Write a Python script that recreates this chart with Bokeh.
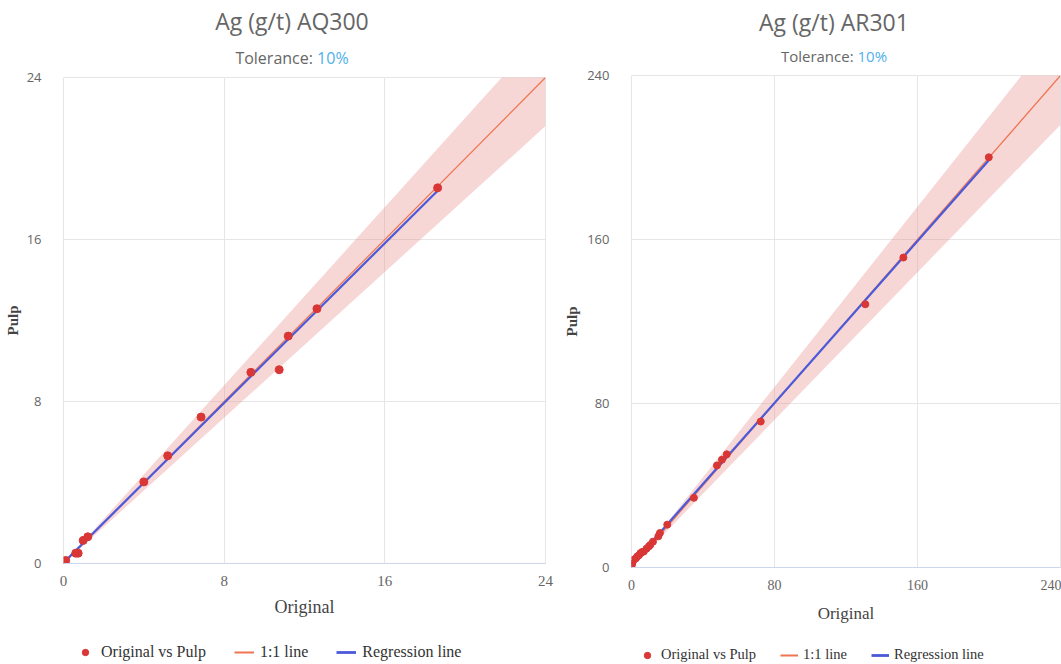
import numpy as np
from bokeh.plotting import figure
from bokeh.layouts import row, column
from bokeh.models import Legend, LegendItem, FixedTicker, Range1d, Div
from bokeh.embed import file_html
from bokeh.resources import INLINE

# ---------------- data ----------------
tolerance = 0.10
tolerance_label = "10%"

left_title = "Ag (g/t) AQ300"
left_ticks = [0, 8, 16, 24]
left_x = [0.11, 0.61, 0.73, 0.98, 1.21, 4.00, 5.19, 6.85, 9.33, 10.74, 11.19, 12.62, 18.63]
left_y = [0.15, 0.51, 0.51, 1.14, 1.32, 4.03, 5.32, 7.23, 9.44, 9.57, 11.23, 12.58, 18.55]

right_title = "Ag (g/t) AR301"
right_ticks = [0, 80, 160, 240]
right_x = [0.0, 0.4, 1.3, 2.5, 3.2, 4.2, 5.0, 6.0, 6.9, 8.4, 9.7, 10.5, 12.0,
           15.0, 15.9, 20.0, 34.9, 47.8, 50.6, 53.3, 72.3, 130.8, 152.1, 199.9]
right_y = [0.5, 1.8, 3.8, 4.5, 5.4, 6.0, 7.0, 7.6, 7.8, 9.2, 10.3, 11.0, 12.6,
           15.2, 16.8, 20.9, 34.0, 49.8, 52.6, 55.2, 71.2, 128.4, 151.2, 200.1]

legend_labels = ["Original vs Pulp", "1:1 line", "Regression line"]

POINT = "#d93636"
ONE = "#ee7550"
REG = "#4a5ad8"
BAND = "#e88a8a"
GRID = "#e6e6e6"


def header(title, W, H, cx, ty, sy, sf):
    html = (
        f'<div style="position:relative;width:{W}px;height:{H}px;">'
        f'<div style="position:absolute;left:0;width:{2*cx}px;top:{ty-16}px;height:32px;'
        f'line-height:32px;text-align:center;font-family:\'Open Sans\';font-size:23px;'
        f'color:#666666;white-space:nowrap;">{title}</div>'
        f'<div style="position:absolute;left:0;width:{2*cx}px;top:{sy-12}px;height:24px;'
        f'line-height:24px;text-align:center;font-family:\'Open Sans\';font-size:{sf};'
        f'color:#666666;white-space:nowrap;">Tolerance: '
        f'<span style="color:#4fb0ec;">{tolerance_label}</span></div>'
        f'</div>'
    )
    return Div(text=html, width=W, height=H, margin=0)


def make(ticks, xs, ys, W, H, bl, br, bt, bb, cfg):
    lo, hi = ticks[0], ticks[-1]
    p = figure(width=W, height=H, output_backend="svg", toolbar_location=None,
               x_range=Range1d(lo, hi), y_range=Range1d(lo, hi),
               min_border_left=bl, min_border_right=br,
               min_border_top=bt, min_border_bottom=bb)
    p.outline_line_color = GRID

    bx = np.array([lo, hi], dtype=float)
    p.varea(x=bx, y1=bx * (1 - tolerance), y2=bx * (1 + tolerance),
            fill_color=BAND, fill_alpha=0.35)
    p.line(x=bx, y=bx, line_color=ONE, line_width=1.2)
    xa = np.array(xs); ya = np.array(ys)
    m, c = np.polyfit(xa, ya, 1)
    rx = np.array([xa.min(), xa.max()])
    p.line(x=rx, y=m * rx + c, line_color=REG, line_width=2.2)
    p.scatter(x=xs, y=ys, size=cfg["ms"], fill_color=POINT, line_color=POINT)

    for ax in (p.xaxis[0], p.yaxis[0]):
        ax.ticker = FixedTicker(ticks=ticks)
        ax.major_tick_line_color = None
        ax.minor_tick_line_color = None
    p.xaxis.axis_line_color = "#ccd6eb"
    p.yaxis.axis_line_color = None
    p.xaxis.major_label_text_font = "Liberation Serif"
    p.xaxis.major_label_text_font_size = cfg["xt"]
    p.xaxis.major_label_text_color = "#666666"
    p.xaxis.major_label_standoff = cfg["xs"]
    p.yaxis.major_label_text_font = "Open Sans"
    p.yaxis.major_label_text_font_size = "13px"
    p.yaxis.major_label_text_color = "#666666"
    p.yaxis.major_label_standoff = cfg["ys"]
    p.xaxis.axis_label = "Original"
    p.xaxis.axis_label_text_font = "Liberation Serif"
    p.xaxis.axis_label_text_font_style = "normal"
    p.xaxis.axis_label_text_font_size = cfg["xl"]
    p.xaxis.axis_label_text_color = "#444444"
    p.xaxis.axis_label_standoff = cfg["xls"]
    p.yaxis.axis_label = "Pulp"
    p.yaxis.axis_label_text_font = "Liberation Serif"
    p.yaxis.axis_label_text_font_style = "bold"
    p.yaxis.axis_label_text_font_size = "15px"
    p.yaxis.axis_label_text_color = "#444444"
    p.yaxis.axis_label_standoff = cfg["yls"]
    p.xgrid.grid_line_color = GRID
    p.ygrid.grid_line_color = GRID
    p.xgrid.ticker = FixedTicker(ticks=ticks)
    p.ygrid.ticker = FixedTicker(ticks=ticks)
    return p


def legend_fig(W, H, cfg):
    # separate strip holding the legend; its keys reuse the chart's mark styles
    q = figure(width=W, height=H, output_backend="svg", toolbar_location=None,
               x_range=Range1d(0, 1), y_range=Range1d(0, 1),
               x_axis_location=None, y_axis_location=None,
               min_border_left=0, min_border_right=0, min_border_top=0, min_border_bottom=0)
    q.outline_line_color = None
    q.xgrid.visible = False
    q.ygrid.visible = False
    nan = [float("nan")]
    r_pts = q.scatter(x=nan, y=nan, size=cfg["ms"], fill_color=POINT, line_color=POINT)
    r_one = q.line(x=nan, y=nan, line_color=ONE, line_width=2)
    r_reg = q.line(x=nan, y=nan, line_color=REG, line_width=2.8)
    leg = Legend(items=[LegendItem(label=legend_labels[0], renderers=[r_pts]),
                        LegendItem(label=legend_labels[1], renderers=[r_one]),
                        LegendItem(label=legend_labels[2], renderers=[r_reg])],
                 orientation="horizontal", location=(cfg["lx"], cfg["ly"]),
                 padding=0, margin=0, spacing=cfg["sp"], label_standoff=cfg["lst"],
                 glyph_width=cfg["gw"], glyph_height=16, label_height=16,
                 border_line_alpha=0, background_fill_alpha=0,
                 label_text_font="Liberation Serif", label_text_font_size=cfg["lf"],
                 label_text_color="#333333")
    q.add_layout(leg)
    return q


h1 = header(left_title, 555, 67, 292, 21, 58, "16px")
p1 = make(left_ticks, left_x, left_y, 555, 558, 63, 10, 10, 62,
          dict(ms=8, xt="15px", xs=6, ys=16, yls=3, xl="18px", xls=8))
l1 = legend_fig(555, 39, dict(ms=8, lx=12, ly=3, sp=28, lst=6, gw=20, lf="16px"))

h2 = header(right_title, 506, 65, 279, 22, 56, "15px")
p2 = make(right_ticks, right_x, right_y, 506, 562, 76, 1, 10, 60,
          dict(ms=7, xt="14px", xs=6, ys=16, yls=4, xl="17px", xls=11))
l2 = legend_fig(506, 37, dict(ms=7, lx=7, ly=1, sp=24, lst=5, gw=18, lf="14.5px"))

layout = row(column(h1, p1, l1), column(h2, p2, l2))
open("out.html", "w").write(file_html(layout, INLINE))
